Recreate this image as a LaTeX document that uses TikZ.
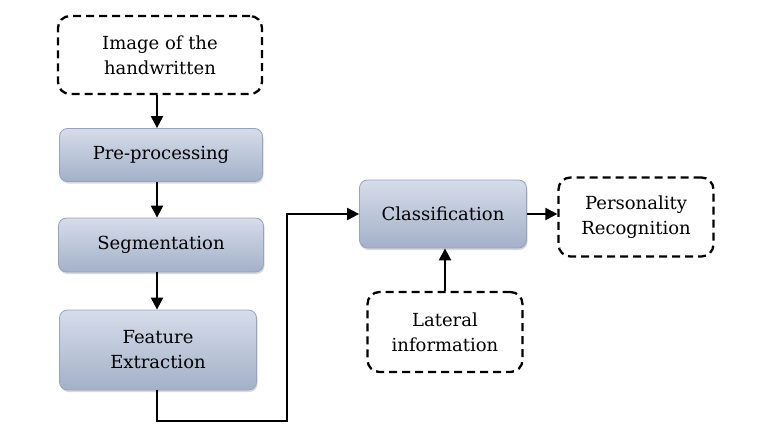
\documentclass[tikz,border=0pt]{standalone}
\usepackage{fontspec}
\setmainfont{DejaVu Serif}
\usetikzlibrary{arrows.meta,shadows}
\definecolor{boxtop}{RGB}{214,221,234}
\definecolor{boxbot}{RGB}{163,176,200}
\definecolor{boxedge}{RGB}{150,163,190}
\begin{document}
\begin{tikzpicture}[x=1pt,y=-1pt,
  procbox/.style={rounded corners=8pt, draw=boxedge, line width=0.8pt,
    top color=boxtop, bottom color=boxbot,
    drop shadow={shadow xshift=1pt,shadow yshift=-2pt,opacity=0.3},
    align=center, font=\fontsize{18}{25}\selectfont, inner sep=0pt},
  dashbox/.style={rounded corners=12pt, draw=black, line width=2.3pt, dash pattern=on 8pt off 5pt,
    fill=white, align=center, font=\fontsize{18}{25}\selectfont, inner sep=0pt},
  conn/.style={line width=2.2pt, -{Triangle[length=12pt,width=12pt]}}]
\useasboundingbox (0,0) rectangle (760,447);
\node[dashbox, minimum width=204pt, minimum height=78pt] (img) at (160,55) {Image of the\\handwritten};
\node[procbox, minimum width=203pt, minimum height=53pt] (pre) at (161,155) {Pre-processing};
\node[procbox, minimum width=205pt, minimum height=54pt] (seg) at (161,245) {Segmentation};
\node[procbox, minimum width=197pt, minimum height=80pt] (fe) at (158,350) {Feature\\Extraction};
\node[procbox, minimum width=167pt, minimum height=68pt] (cls) at (443,214) {Classification};
\node[dashbox, minimum width=155pt, minimum height=79pt] (per) at (636,217) {Personality\\Recognition};
\node[dashbox, minimum width=155pt, minimum height=80pt] (lat) at (445,332) {Lateral\\information};
\coordinate (c1) at (157,421);
\coordinate (c2) at (287,421);
\coordinate (c3) at (287,214);
\draw[conn] (img.south -| 157,0) -- (pre.north -| 157,0);
\draw[conn] (pre.south -| 157,0) -- (seg.north -| 157,0);
\draw[conn] (seg.south -| 157,0) -- (fe.north -| 157,0);
\draw[conn] (fe.south -| c1) -- (c1) -- (c2) -- (c3) -- (cls.west);
\draw[conn] (cls.east) -- (per.west |- cls.east);
\draw[conn] (lat.north) -- (cls.south -| lat.north);
\end{tikzpicture}
\end{document}
